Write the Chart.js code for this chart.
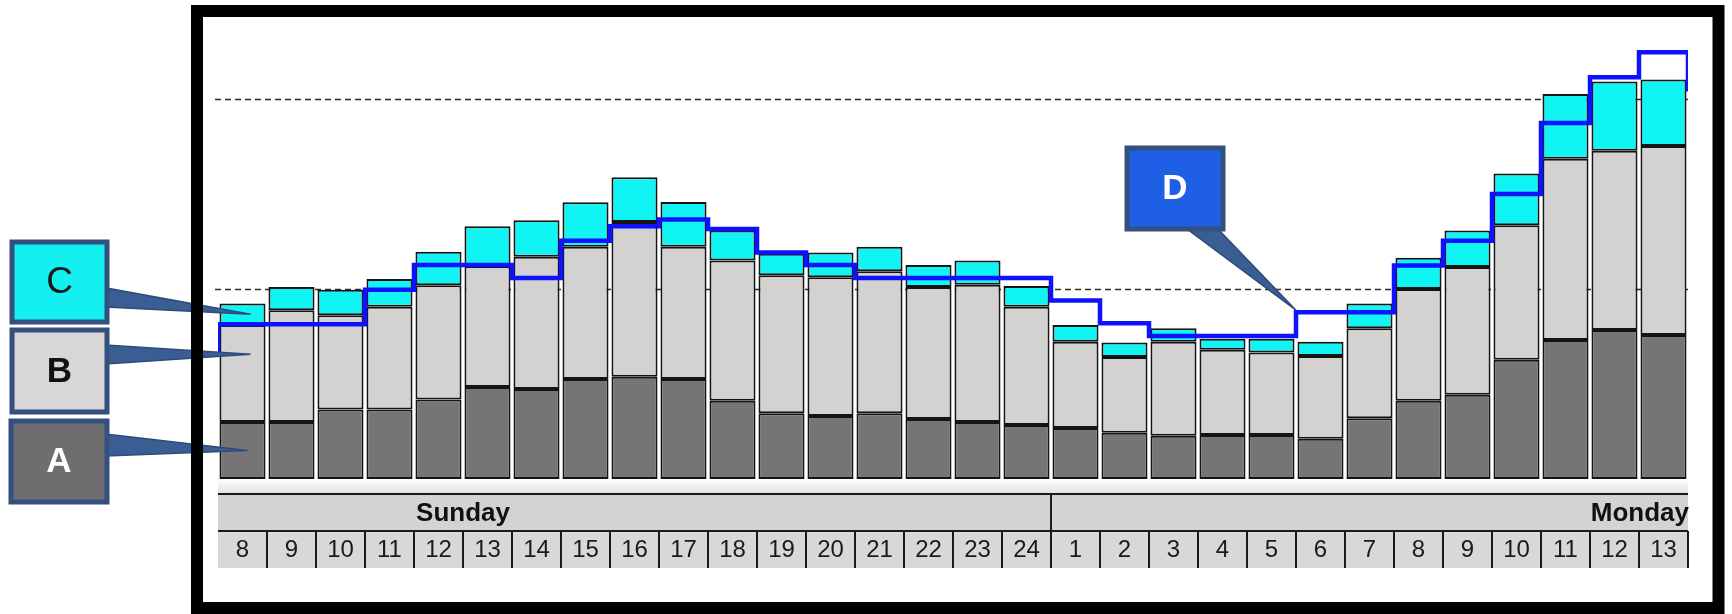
<!DOCTYPE html>
<html>
<head>
<meta charset="utf-8">
<script src="https://cdn.jsdelivr.net/npm/chart.js@4.4.1/dist/chart.umd.min.js"></script>
<style>
  html, body { margin: 0; padding: 0; background: #fff; }
  #wrap { width: 1732px; height: 614px; position: relative; }
</style>
</head>
<body>
<div id="wrap"><canvas id="chart"></canvas></div>
<script>
// hour of day for each bar, and the day groups they belong to
const hours = [8, 9, 10, 11, 12, 13, 14, 15, 16, 17, 18, 19, 20, 21, 22, 23, 24,
               1, 2, 3, 4, 5, 6, 7, 8, 9, 10, 11, 12, 13];
const dayNames = ['Sunday', 'Monday'];
const dayCounts = [17, 13];

// stacked series
const seriesA = [15.0, 15.0, 18.3, 18.3, 20.9, 24.2, 23.7, 26.3, 26.9, 26.3, 20.6, 17.3, 16.6, 17.3, 15.8, 15.0, 14.2,
                 13.4, 12.2, 11.4, 11.6, 11.6, 10.6, 16.0, 20.6, 22.2, 31.4, 36.6, 39.2, 37.9];
const seriesB = [25.5, 29.4, 24.8, 27.0, 30.1, 31.8, 34.8, 34.8, 40.7, 34.8, 36.9, 36.3, 36.5, 37.4, 34.7, 36.1, 31.1,
                 22.7, 19.9, 24.7, 22.4, 21.7, 21.8, 23.7, 29.4, 33.6, 35.4, 47.7, 47.2, 49.7];
const seriesC = [5.7, 6.1, 6.7, 7.3, 8.8, 10.5, 9.6, 11.7, 11.8, 11.8, 7.9, 5.7, 6.5, 6.4, 5.8, 6.4, 5.5,
                 4.4, 3.8, 3.6, 2.9, 3.6, 3.7, 6.5, 8.2, 9.6, 13.6, 17.0, 18.2, 17.5];
// step line D, one value per hour, plus the partial steps visible at both ends
const seriesD = [40.7, 40.7, 40.7, 49.8, 56.3, 56.3, 52.9, 62.7, 66.5, 68.3, 65.8, 59.6, 56.3, 52.9, 52.9, 52.9, 52.9,
                 47.0, 41.0, 37.6, 37.6, 37.6, 43.9, 43.9, 56.2, 62.7, 75.0, 93.7, 105.7, 112.3];
const dBefore = 33;
const dAfter = 102;

// dashed reference levels
const refLevels = [50, 100];
const yMax = 120;

const FONT = "'Liberation Sans', Arial, sans-serif";

// D points sit on the left edge of each hour slot
const dPoints = [{ x: 0, y: dBefore }];
seriesD.forEach((v, i) => dPoints.push({ x: i, y: v }));
dPoints.push({ x: hours.length, y: seriesD[seriesD.length - 1] });
dPoints.push({ x: hours.length, y: dAfter });

function callout(ctx, box, fill, text, textColor, font, wedge, tip) {
  ctx.save();
  ctx.fillStyle = '#3a5e93';
  ctx.strokeStyle = '#2e4c78';
  ctx.lineWidth = 1.5;
  ctx.beginPath();
  ctx.moveTo(wedge[0][0], wedge[0][1]);
  ctx.lineTo(wedge[1][0], wedge[1][1]);
  ctx.lineTo(tip[0], tip[1]);
  ctx.closePath();
  ctx.fill();
  ctx.stroke();
  ctx.fillStyle = fill;
  ctx.fillRect(box[0], box[1], box[2], box[3]);
  ctx.lineWidth = 5;
  ctx.strokeStyle = '#33507f';
  ctx.strokeRect(box[0], box[1], box[2], box[3]);
  ctx.fillStyle = textColor;
  ctx.font = font + ' ' + FONT;
  ctx.textAlign = 'center';
  ctx.textBaseline = 'middle';
  ctx.fillText(text, box[0] + box[2] / 2, box[1] + box[3] / 2 + 1);
  ctx.restore();
}

const decor = {
  id: 'decor',
  beforeDraw(chart) {
    const ctx = chart.ctx;
    ctx.save();
    ctx.fillStyle = '#ffffff';
    ctx.fillRect(0, 0, chart.width, chart.height);
    ctx.restore();
  },
  beforeDatasetsDraw(chart) {
    const ctx = chart.ctx;
    const area = chart.chartArea;
    const y = chart.scales.y;
    ctx.save();
    ctx.strokeStyle = '#2a2a2a';
    ctx.lineWidth = 1.5;
    ctx.setLineDash([6, 4]);
    refLevels.forEach(v => {
      const py = Math.round(y.getPixelForValue(v)) + 0.5;
      ctx.beginPath();
      ctx.moveTo(area.left - 3, py);
      ctx.lineTo(area.right, py);
      ctx.stroke();
    });
    ctx.restore();
  },
  afterDatasetsDraw(chart) {
    const ctx = chart.ctx;
    const area = chart.chartArea;
    const xs = chart.scales.x;
    const ys = chart.scales.y;
    const step = xs.getPixelForValue(1) - xs.getPixelForValue(0);
    const edge = i => xs.getPixelForValue(0) - step / 2 + i * step;
    const left = edge(0), right = edge(hours.length);
    const bandTop = area.bottom + 15, bandBot = area.bottom + 52, rowBot = area.bottom + 89;

    ctx.save();
    // soft strip under the bars
    const g = ctx.createLinearGradient(0, area.bottom, 0, bandTop);
    g.addColorStop(0, '#ffffff');
    g.addColorStop(1, '#e2e0e0');
    ctx.fillStyle = g;
    ctx.fillRect(left, area.bottom + 2, right - left, bandTop - area.bottom - 2);

    // day band and hour row
    ctx.fillStyle = '#d4d2d2';
    ctx.fillRect(left, bandTop, right - left, bandBot - bandTop);
    ctx.fillStyle = '#d9d7d7';
    ctx.fillRect(left, bandBot, right - left, rowBot - bandBot);

    ctx.strokeStyle = '#1a1a1a';
    ctx.lineWidth = 2;
    ctx.beginPath();
    ctx.moveTo(left, bandTop); ctx.lineTo(right, bandTop);
    ctx.moveTo(left, bandBot); ctx.lineTo(right, bandBot);
    for (let i = 1; i <= hours.length; i++) {
      ctx.moveTo(edge(i), bandBot); ctx.lineTo(edge(i), rowBot);
    }
    let start = 0;
    dayCounts.forEach((n, d) => {
      if (d > 0) { ctx.moveTo(edge(start), bandTop); ctx.lineTo(edge(start), bandBot); }
      start += n;
    });
    ctx.stroke();

    ctx.fillStyle = '#111';
    ctx.font = 'bold 26px ' + FONT;
    ctx.textBaseline = 'middle';
    start = 0;
    dayCounts.forEach((n, d) => {
      if (d === 0) {
        ctx.textAlign = 'center';
        ctx.fillText(dayNames[d], edge(start + 5), (bandTop + bandBot) / 2 + 1);
      } else {
        ctx.textAlign = 'right';
        ctx.fillText(dayNames[d], edge(start + n) + 1, (bandTop + bandBot) / 2 + 1);
      }
      start += n;
    });

    ctx.font = '24px ' + FONT;
    ctx.fillStyle = '#1a1a1a';
    ctx.textAlign = 'center';
    hours.forEach((h, i) => {
      ctx.fillText(String(h), xs.getPixelForValue(i), (bandBot + rowBot) / 2 + 1);
    });
    ctx.restore();

    // callouts
    const x0 = xs.getPixelForValue(0) + 8;
    const yA = ys.getPixelForValue(seriesA[0] / 2);
    const yB = ys.getPixelForValue(seriesA[0] + seriesB[0] * 0.7);
    const yC = ys.getPixelForValue(seriesA[0] + seriesB[0] + seriesC[0] / 2);
    callout(ctx, [12, 242, 95, 80], '#14efef', 'C', '#1a1a1a', '37px', [[106, 288], [106, 307]], [x0, yC]);
    callout(ctx, [12, 330, 95, 82], '#d8d6d6', 'B', '#111', 'bold 35px', [[106, 345], [106, 364]], [x0, yB]);
    callout(ctx, [11, 421, 96, 81], '#6e6e70', 'A', '#ffffff', 'bold 35px', [[106, 434], [106, 456]], [x0 - 3, yA]);
    const dx = edge(22), dy = ys.getPixelForValue(seriesD[22]) - 2;
    callout(ctx, [1127, 148, 96, 81], '#1f5fe5', 'D', '#ffffff', 'bold 35px', [[1183, 226], [1215, 226]], [dx, dy]);

    // thick frame
    ctx.save();
    ctx.strokeStyle = '#000';
    ctx.lineWidth = 12;
    ctx.strokeRect(197, 11, 1521.5, 597);
    ctx.restore();
  }
};

const barStyle = {
  borderColor: '#141414',
  borderWidth: 2,
  borderSkipped: false,
  grouped: false,
  barPercentage: 0.94,
  categoryPercentage: 1
};

new Chart(document.getElementById('chart'), {
  type: 'bar',
  data: {
    labels: hours.map(String),
    datasets: [
      Object.assign({ label: 'A', data: seriesA, backgroundColor: '#767474', order: 1 }, barStyle),
      Object.assign({ label: 'B', data: seriesB, backgroundColor: '#d4d1d1', order: 1 }, barStyle),
      Object.assign({ label: 'C', data: seriesC, backgroundColor: '#10f4f4', order: 1 }, barStyle),
      {
        type: 'line',
        label: 'D',
        data: dPoints,
        xAxisID: 'x2',
        yAxisID: 'y2',
        stepped: true,
        borderColor: '#0d12ff',
        borderWidth: 4.5,
        pointRadius: 0,
        fill: false,
        order: 0
      }
    ]
  },
  options: {
    responsive: true,
    maintainAspectRatio: false,
    animation: false,
    layout: { padding: { left: 218, right: 44, top: 23, bottom: 135 } },
    scales: {
      x: { display: false, stacked: true },
      x2: { type: 'linear', display: false, offset: false, min: 0, max: hours.length },
      y: { display: false, stacked: true, min: 0, max: yMax },
      y2: { type: 'linear', display: false, stacked: false, min: 0, max: yMax }
    },
    plugins: {
      legend: { display: false },
      tooltip: { enabled: false }
    }
  },
  plugins: [decor]
});
</script>
</body>
</html>
